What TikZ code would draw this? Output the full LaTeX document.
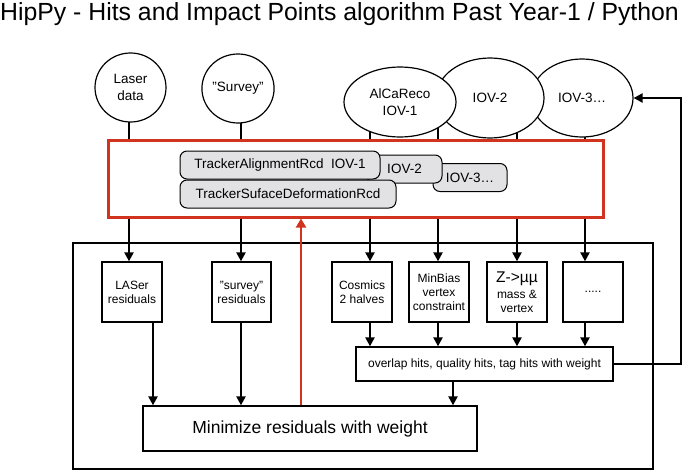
\documentclass[tikz,border=0pt]{standalone}
\usepackage{fontspec}
\setmainfont{Liberation Sans}
\usetikzlibrary{arrows.meta,positioning,shapes.geometric,backgrounds}
\definecolor{rcdred}{RGB}{208,52,30}
\definecolor{rcdgray}{RGB}{226,226,229}

\begin{document}
\begin{tikzpicture}[x=1pt,y=-1pt,
  oval/.style={ellipse, draw, fill=white, line width=1.2pt, inner sep=0pt, align=center, font=\fontsize{13.5}{17}\selectfont},
  rcdbox/.style={draw, rounded corners=7pt, fill=rcdgray, line width=1pt, inner sep=0pt, minimum height=28pt, font=\fontsize{13.5}{16}\selectfont},
  stepbox/.style={draw, fill=white, line width=1.3pt, inner sep=0pt, minimum width=60pt, minimum height=60pt, align=center, font=\fontsize{12}{14}\selectfont},
  link/.style={line width=2pt},
  flow/.style={line width=2.2pt, -{Triangle[length=9pt,width=9pt]}},
]
\useasboundingbox (0,0) rectangle (685,471);
\node[anchor=base west, inner sep=0pt, font=\fontsize{24.8}{28}\selectfont] (title) at (0,20) {HipPy - Hits and Impact Points algorithm Past Year-1 / Python};

% inputs
\node[oval, minimum width=71pt, minimum height=69pt] (laser) at (130.5,87.5) {Laser\\data};
\node[oval, minimum width=68pt, minimum height=69pt] (survey) at (238,88.5) {"Survey"};
\node[oval, minimum width=102pt, minimum height=78pt] (iovc) at (582,98) {IOV-3…};
\node[oval, minimum width=108pt, minimum height=80pt] (iovb) at (490,98) {IOV-2};
\node[oval, minimum width=112pt, minimum height=70pt] (aca) at (400,102) {AlCaReco\\IOV-1};

% conditions
\node[draw=rcdred, line width=3pt, minimum width=495pt, minimum height=77pt, inner sep=0pt] (rcd) at (355.5,178.5) {};
\node[rcdbox, minimum width=74pt] (rcdc) at (470,177.5) {IOV-3…};
\node[rcdbox, minimum width=75pt] (rcdb) at (404.5,169) {IOV-2};
\node[rcdbox, minimum width=200pt] (align) at (280,165) {TrackerAlignmentRcd\ \ IOV-1};
\node[rcdbox, minimum width=216pt] (surf) at (288,194) {TrackerSufaceDeformationRcd};

\begin{pgfonlayer}{background}
\foreach \x/\e in {129/laser,241/survey,370/aca,438/aca,517/iovb,585/iovc}
  \draw[link] (\x,0 |- rcd.north) -- (\x,0 |- \e.center);
\end{pgfonlayer}

% alignment loop
\draw[line width=1.2pt] (73,243) rectangle (653,469);
\node[stepbox] (laserres) at (132,292) {LASer\\residuals};
\node[stepbox, minimum width=59pt] (surveyres) at (241.5,292) {"survey"\\residuals};
\node[stepbox] (cosmics) at (362,292) {Cosmics\\2 halves};
\node[stepbox] (minbias) at (439,292) {MinBias\\vertex\\constraint};
\node[stepbox] (zmumu) at (517,292) {{\fontsize{15.5}{17}\selectfont Z->µµ}\\[2pt]mass \&\\vertex};
\node[stepbox] (dots) at (593,292) {.....};
\node[stepbox, minimum width=257pt, minimum height=34pt] (overlap) at (484.5,364) {overlap hits, quality hits, tag hits with weight};
\node[stepbox, minimum width=334pt, minimum height=45pt, font=\fontsize{17.5}{20}\selectfont] (minim) at (310,428.5) {Minimize residuals with weight};

\foreach \x/\b in {129/laserres,241/surveyres,370/cosmics,438/minbias,517/zmumu,585/dots}
  \draw[flow] (\x,0 |- rcd.south) -- (\x,0 |- \b.north);
\foreach \x/\b/\t in {153/laserres/minim,241/surveyres/minim,370/cosmics/overlap,438/minbias/overlap,517/zmumu/overlap,585/dots/overlap}
  \draw[flow] (\x,0 |- \b.south) -- (\x,0 |- \t.north);
\draw[flow] (453,0 |- overlap.south) -- (453,0 |- minim.north);
\draw[line width=2pt, rcdred, -{Triangle[length=9pt,width=10pt]}] (301,0 |- minim.north) -- (301,0 |- rcd.south);
\draw[flow] (overlap.east) -- ++(67,0) |- (iovc.east);
\end{tikzpicture}
\end{document}
